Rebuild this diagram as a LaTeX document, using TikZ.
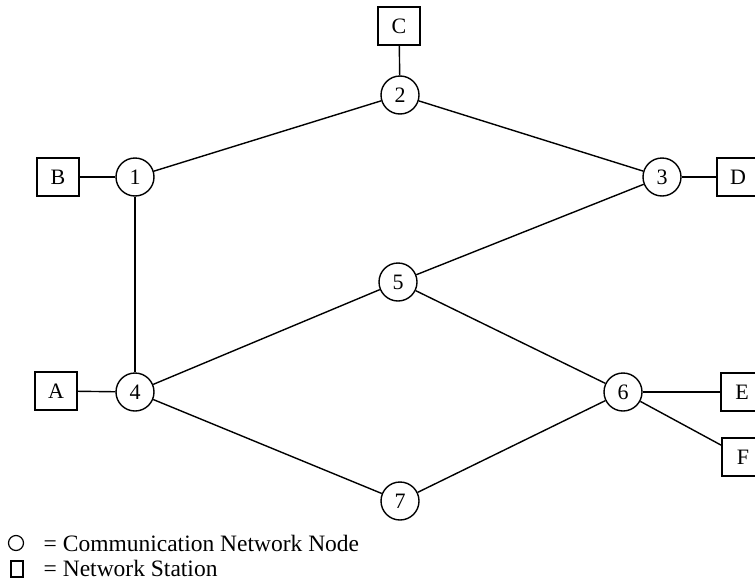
\documentclass[tikz,border=0pt]{standalone}
\usepackage{fontspec}
\setmainfont{Liberation Serif}
\begin{document}
\begin{tikzpicture}[x=1pt,y=-1pt,
  line width=1.4pt,
  netnode/.style={circle,draw,minimum size=38pt,inner sep=0pt,
    font=\fontsize{22}{25}\selectfont},
  station/.style={rectangle,draw,minimum width=42pt,minimum height=38pt,inner sep=0pt,
    font=\fontsize{22}{25}\selectfont},
  link/.style={line width=1.4pt},
  legendtext/.style={anchor=west,inner sep=0pt,font=\fontsize{23.5}{26}\selectfont}]
\useasboundingbox (0,0) rectangle (755,581);
\clip (0,0) rectangle (755,581);

% communication network nodes
\node[netnode] (n1) at (135,177) {1};
\node[netnode] (n2) at (400,95) {2};
\node[netnode] (n3) at (662,177) {3};
\node[netnode] (n4) at (135,392) {4};
\node[netnode] (n5) at (398,282) {5};
\node[netnode] (n6) at (623,392) {6};
\node[netnode] (n7) at (400,501) {7};

% network stations
\node[station] (sA) at (56,391) {A};
\node[station] (sB) at (58,177) {B};
\node[station] (sC) at (399,26) {C};
\node[station] (sD) at (738,177) {D};
\node[station] (sE) at (742,392) {E};
\node[station] (sF) at (743,457) {F};

% links between nodes
\draw[link] (n1) -- (n2);
\draw[link] (n2) -- (n3);
\draw[link] (n1) -- (n4);
\draw[link] (n3) -- (n5);
\draw[link] (n4) -- (n5);
\draw[link] (n5) -- (n6);
\draw[link] (n4) -- (n7);
\draw[link] (n7) -- (n6);

% station attachments
\draw[link] (sA) -- (n4);
\draw[link] (sB) -- (n1);
\draw[link] (sC) -- (n2);
\draw[link] (n3) -- (sD);
\draw[link] (n6) -- (sE);
\draw[link] (n6) -- (sF);

% legend
\node[circle,draw,line width=1.2pt,minimum size=15pt,inner sep=0pt] (keyNode) at (16,543) {};
\node[rectangle,draw,line width=1.2pt,minimum width=12pt,minimum height=16pt,inner sep=0pt] (keyStation) at (17,569) {};
\node[legendtext] (keyNodeText) at (43,543) {= Communication Network Node};
\node[legendtext] (keyStationText) at (43,568) {= Network Station};
\end{tikzpicture}
\end{document}
